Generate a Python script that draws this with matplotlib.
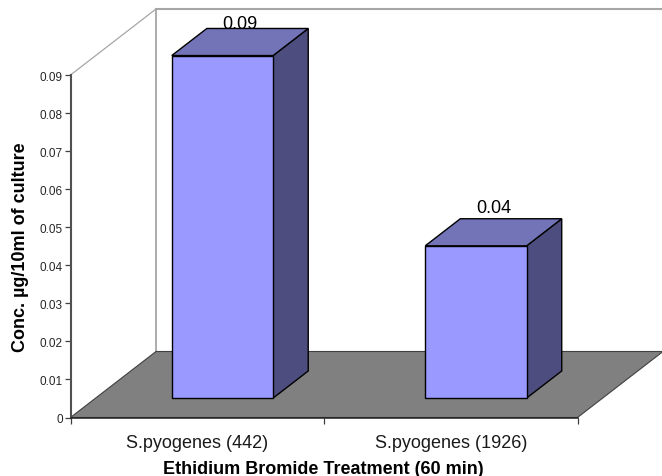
import matplotlib
matplotlib.use("Agg")
import matplotlib.pyplot as plt
from matplotlib.patches import Polygon

plt.rcParams['font.family'] = ['Liberation Sans', 'DejaVu Sans']

categories = ["S.pyogenes (442)", "S.pyogenes (1926)"]
values = [0.09, 0.04]
value_labels = ["0.09", "0.04"]
yticks = [0, 0.01, 0.02, 0.03, 0.04, 0.05, 0.06, 0.07, 0.08, 0.09]
ytick_labels = ["0", "0.01", "0.02", "0.03", "0.04", "0.05", "0.06", "0.07", "0.08", "0.09"]
xlabel = "Ethidium Bromide Treatment (60 min)"
ylabel = "Conc. µg/10ml of culture"

W, H = 662, 477
L, R, B, T = 70.5, 577.5, 418.5, 76.0
fig = plt.figure(figsize=(W / 100, H / 100), dpi=100)
ax = fig.add_axes([L / W, 1 - B / H, (R - L) / W, (B - T) / H])
ax.set_xlim(0, 2)
ax.set_ylim(0, 0.09)
ax.patch.set_visible(False)

# oblique depth projection: depth 1 = full floor depth
DX = 85.5 / ((R - L) / 2)
DY = 66.0 / ((B - T) / 0.09)


def P(x, v, d=0.0):
    return (x + d * DX, v + d * DY)


def poly(points, fc, ec="black", lw=1.0, z=3):
    ax.add_patch(Polygon(points, closed=True, facecolor=fc, edgecolor=ec,
                         linewidth=lw, clip_on=False, zorder=z, joinstyle="miter"))


vmax = yticks[-1]
# floor
poly([P(0, 0), P(2, 0), P(2, 0, 1), P(0, 0, 1)], "#808080", ec="#404040", lw=0.8, z=1)
# walls
wall = "#A6A6A6"
ax.plot(*zip(P(0, 0, 1), P(0, vmax, 1)), color=wall, lw=1.3, clip_on=False, zorder=0.5)
ax.plot(*zip(P(0, vmax, 1), P(2, vmax, 1)), color=wall, lw=1.5, clip_on=False, zorder=0.5)
ax.plot(*zip(P(0, vmax), P(0, vmax, 1)), color=wall, lw=0.9, clip_on=False, zorder=0.5)

# bars
width = 0.4
d0, d1 = 0.295, 0.705
label_offsets = [(0, 7.0), (0, 11.5)]
for i, (v, lab) in enumerate(zip(values, value_labels)):
    c = i + 0.5
    x0, x1 = c - width / 2, c + width / 2
    ax.annotate(lab, P(c, v, 0.5), xytext=label_offsets[i], textcoords="offset points",
                ha="center", va="bottom", fontsize=13, color="black",
                annotation_clip=False, zorder=2)
    poly([P(x1, 0, d0), P(x1, 0, d1), P(x1, v, d1), P(x1, v, d0)], "#4D4D80", z=3)
    poly([P(x0, v, d0), P(x1, v, d0), P(x1, v, d1), P(x0, v, d1)], "#7373B8", z=3)
    poly([P(x0, 0, d0), P(x1, 0, d0), P(x1, v, d0), P(x0, v, d0)], "#9999FF", z=4)

# axes
for s in ("top", "right"):
    ax.spines[s].set_visible(False)
ax.spines["left"].set_color("#505050")
ax.spines["left"].set_linewidth(1.5)
ax.spines["bottom"].set_color("#202020")
ax.spines["bottom"].set_linewidth(1.1)
ax.spines["left"].set_zorder(5)
ax.spines["bottom"].set_zorder(5)

ax.set_yticks(yticks, ytick_labels)
ax.tick_params(axis="y", length=4.5, width=0.9, color="#404040", labelsize=8.5,
               pad=1, labelcolor="#262626")
ax.set_xticks([0, 1, 2], ["", "", ""])
ax.tick_params(axis="x", length=4.5, width=0.9, color="#404040")
for c, name in zip([0.5, 1.5], categories):
    ax.annotate(name, (c, 0), xytext=(0, -12.2), textcoords="offset points", ha="center",
                va="top", fontsize=13, color="#1a1a1a", annotation_clip=False)

fig.text(323.5 / W, 1 - 470 / H, xlabel, ha="center", va="center",
         fontsize=13, fontweight="bold", color="black")
fig.text(21 / W, 1 - 247.5 / H, ylabel, ha="center", va="center", rotation=90,
         fontsize=13, fontweight="bold", color="black")

fig.savefig("out.png", dpi=100, facecolor="white")
